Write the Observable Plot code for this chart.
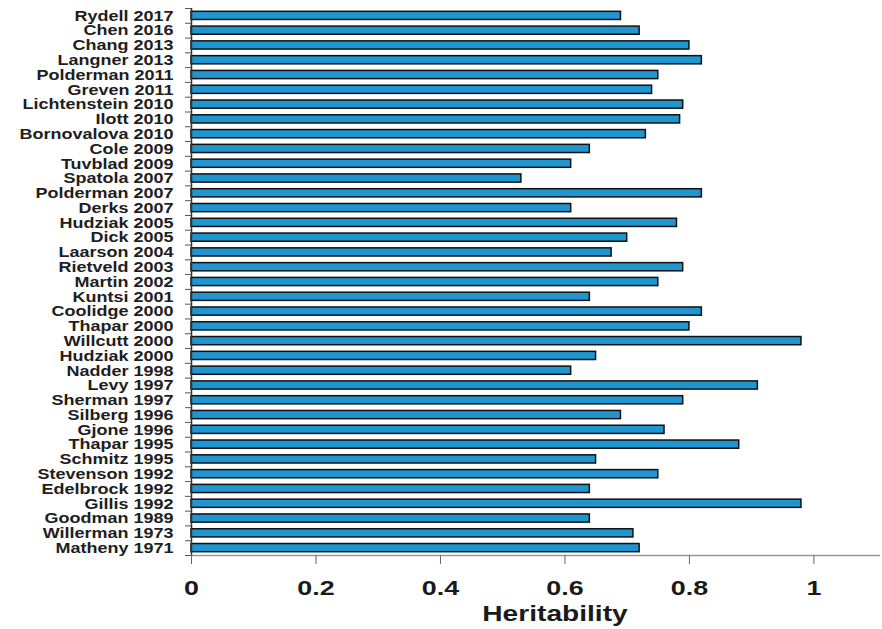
<!DOCTYPE html>
<html><head><meta charset="utf-8">
<script src="https://cdn.jsdelivr.net/npm/d3@7"></script>
<script src="https://cdn.jsdelivr.net/npm/@observablehq/plot@0.6"></script>
<style>body{margin:0;background:#fff}</style>
</head><body><div id="chart"></div>
<script>
const studies = ["Rydell 2017","Chen 2016","Chang 2013","Langner 2013","Polderman 2011","Greven 2011","Lichtenstein 2010","Ilott 2010","Bornovalova 2010","Cole 2009","Tuvblad 2009","Spatola 2007","Polderman 2007","Derks 2007","Hudziak 2005","Dick 2005","Laarson 2004","Rietveld 2003","Martin 2002","Kuntsi 2001","Coolidge 2000","Thapar 2000","Willcutt 2000","Hudziak 2000","Nadder 1998","Levy 1997","Sherman 1997","Silberg 1996","Gjone 1996","Thapar 1995","Schmitz 1995","Stevenson 1992","Edelbrock 1992","Gillis 1992","Goodman 1989","Willerman 1973","Matheny 1971"];
const heritability = [0.69,0.72,0.80,0.82,0.75,0.74,0.79,0.785,0.73,0.64,0.61,0.53,0.82,0.61,0.78,0.70,0.675,0.79,0.75,0.64,0.82,0.80,0.98,0.65,0.61,0.91,0.79,0.69,0.76,0.88,0.65,0.75,0.64,0.98,0.64,0.71,0.72];
const xTicks = [0,0.2,0.4,0.6,0.8,1];
const xTickLabels = ["0","0.2","0.4","0.6","0.8","1"];
const xLabel = "Heritability";

const data = studies.map((s,i)=>({study:s, h: heritability[i]}));
const W=882, H=629, mT=8, mB=74, mL=191, mR=2;
const step = (H-mT-mB)/studies.length;
const tickLabel = d => {
  const k = xTicks.findIndex(t => Math.abs(t - d) < 1e-6);
  return k >= 0 ? xTickLabels[k] : "";
};

const chart = Plot.plot({
  width: W, height: H, marginTop: mT, marginBottom: mB, marginLeft: mL, marginRight: mR,
  style: {fontFamily: "'Liberation Sans', Arial, sans-serif", background: "#fff"},
  x: {domain: [0, 1.107], label: null},
  y: {domain: studies, padding: 0, round: false, label: null},
  marks: [
    Plot.barX(data, {x: "h", y: "study", fill: "#1f96d0", stroke: "#111", strokeWidth: 1.5, insetTop: 3.3, insetBottom: 3.3}),
    Plot.ruleX([0], {stroke: "#333", strokeWidth: 1.5}),
    Plot.ruleY([studies[studies.length-1]], {y: d => d, dy: step/2, stroke: "#999", strokeWidth: 1.5}),
    Plot.axisY({tickSize: 6, tickFormat: () => "", dy: -step/2, stroke: "#555"}),
    Plot.axisY([studies[studies.length-1]], {tickSize: 6, tickFormat: () => "", dy: step/2, stroke: "#555"}),
    Plot.axisY({tickSize: 0, tickPadding: 18, fontSize: 15, fontWeight: "bold", color: "#1e1e1e"}),
    Plot.axisX(xTicks, {tickSize: 9, tickFormat: () => "", stroke: "#666"}),
    Plot.text(xTicks, {x: d => d, text: tickLabel, frameAnchor: "bottom", lineAnchor: "top", dy: 25, fontSize: 21, fontWeight: "bold", fill: "#1a1a1a"}),
    Plot.text([xLabel], {frameAnchor: "bottom", dx: 19, dy: 65, fontSize: 22, fontWeight: "bold", fill: "#1a1a1a"})
  ]
});
document.getElementById("chart").appendChild(chart);

// drop the empty texts of the tick-only axes
chart.querySelectorAll("text").forEach(t => { if (t.textContent === "") t.remove(); });

function stretchTexts(root, selector, s) {
  root.querySelectorAll(selector).forEach(t => {
    let tr = t.getAttribute("transform") || "";
    const x = t.getAttribute("x");
    if (x != null && /^-?[\d.]+$/.test(x)) {
      tr += ` translate(${x},0)`;
      t.removeAttribute("x");
    }
    t.setAttribute("transform", tr + ` scale(${s},1)`);
  });
}
stretchTexts(chart, 'g[aria-label="y-axis tick label"] text', 1.2);
stretchTexts(chart, 'g[aria-label="text"] text', 1.28);
</script>
</body></html>
